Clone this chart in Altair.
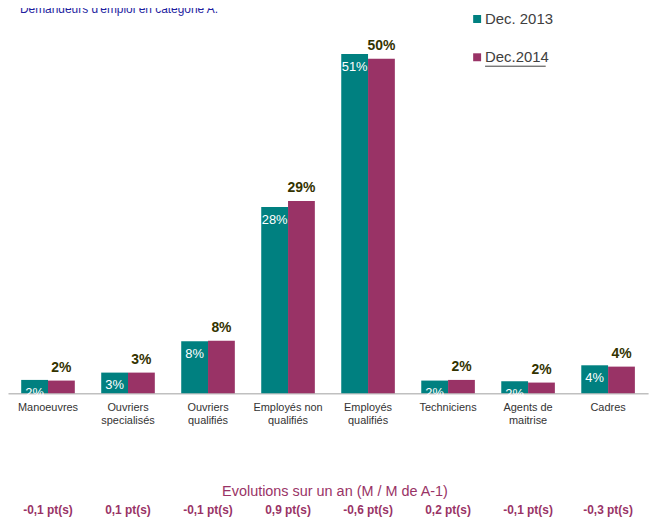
import altair as alt
import pandas as pd

# ---- data ----
categories = ["Manoeuvres", "Ouvriers\nspecialisés", "Ouvriers\nqualifiés", "Employés non\nqualifiés",
              "Employés\nqualifiés", "Techniciens", "Agents de\nmaitrise", "Cadres"]
series = ["Dec. 2013", "Dec.2014"]
values_2013 = [2.0, 3.1, 7.8, 28.0, 51.0, 1.9, 1.8, 4.2]
values_2014 = [1.9, 3.1, 7.9, 28.9, 50.3, 2.0, 1.6, 4.0]
labels_2013 = ["2%", "3%", "8%", "28%", "51%", "2%", "2%", "4%"]
labels_2014 = ["2%", "3%", "8%", "29%", "50%", "2%", "2%", "4%"]
evolutions = ["-0,1 pt(s)", "0,1 pt(s)", "-0,1 pt(s)", "0,9 pt(s)", "-0,6 pt(s)", "0,2 pt(s)",
              "-0,1 pt(s)", "-0,3 pt(s)"]
title_text = "Demandeurs d'emploi en catégorie A."
subtitle_text = "Evolutions sur un an (M / M de A-1)"
colors = ["#008080", "#993366"]

rows = []
for c, v, l in zip(categories, values_2013, labels_2013):
    rows.append({"category": c, "series": series[0], "value": v, "label": l})
for c, v, l in zip(categories, values_2014, labels_2014):
    rows.append({"category": c, "series": series[1], "value": v, "label": l})
df = pd.DataFrame(rows)
df_evol = pd.DataFrame({"category": categories, "evol": evolutions})

FONT = "Liberation Sans"

x_enc = alt.X(
    "category:N", sort=categories, title=None,
    scale=alt.Scale(domain=categories, paddingInner=0.33, paddingOuter=0.165),
    axis=alt.Axis(labelAngle=0, ticks=False, domainColor="#c0c0c0", domainWidth=1.5,
                  labelFontSize=11, labelColor="#333333", labelPadding=8,
                  labelLineHeight=13, labelFont=FONT,
                  labelExpr="split(datum.label, '\\n')"),
)
xo_enc = alt.XOffset("series:N", sort=series, scale=alt.Scale(domain=series))
y_enc = alt.Y("value:Q", scale=alt.Scale(domain=[0, 57.7], nice=False, zero=True), axis=None)

base = alt.Chart(df)

bars = base.mark_bar().encode(
    x=x_enc, xOffset=xo_enc, y=y_enc,
    color=alt.Color("series:N", scale=alt.Scale(domain=series, range=colors), legend=None),
)

lab13 = base.transform_filter(alt.datum.series == series[0]).mark_text(
    baseline="top", dy=7, color="white", fontSize=13, font=FONT
).encode(x=x_enc, xOffset=xo_enc, y=y_enc, text="label:N")

lab14 = base.transform_filter(alt.datum.series == series[1]).mark_text(
    baseline="bottom", dy=-6, color="#333300", fontSize=14, fontWeight="bold", font=FONT
).encode(x=x_enc, xOffset=xo_enc, y=y_enc, text="label:N")

evol = alt.Chart(df_evol).mark_text(
    baseline="middle", color="#993366", fontSize=12, fontWeight="bold", font=FONT
).encode(x=x_enc, y=alt.value(504), text="evol:N")

one = lambda t: pd.DataFrame({"t": [t]})

title = alt.Chart(one(title_text)).mark_text(
    align="left", baseline="alphabetic", color="#1f1f9f", fontSize=12, font=FONT
).encode(x=alt.value(12), y=alt.value(3), text="t:N")

subtitle = alt.Chart(one(subtitle_text)).mark_text(
    align="center", baseline="middle", color="#993366", fontSize=14.5, font=FONT
).encode(x=alt.value(329), y=alt.value(485), text="t:N")

leg_sq1 = alt.Chart(one(series[0])).mark_square(size=64, opacity=1, color=colors[0]).encode(
    x=alt.value(472), y=alt.value(9.5))
leg_sq2 = alt.Chart(one(series[1])).mark_square(size=64, opacity=1, color=colors[1]).encode(
    x=alt.value(472), y=alt.value(48))
leg_t1 = alt.Chart(one(series[0])).mark_text(
    align="left", baseline="middle", color="#404040", fontSize=15, font=FONT
).encode(x=alt.value(480), y=alt.value(9.5), text="t:N")
leg_t2 = alt.Chart(one(series[1])).mark_text(
    align="left", baseline="middle", color="#404040", fontSize=15, font=FONT
).encode(x=alt.value(480), y=alt.value(48), text="t:N")
underline = alt.Chart(one(series[1])).mark_rule(color="#404040", strokeWidth=1).encode(
    x=alt.value(480), x2=alt.value(541), y=alt.value(57))

chart = alt.layer(
    bars, lab13, lab14, evol, title, subtitle, leg_sq1, leg_sq2, leg_t1, leg_t2, underline
).properties(
    width=644, height=386,
    autosize=alt.AutoSizeParams(type="none"),
    padding={"left": 0, "top": 0, "right": 14, "bottom": 127},
).configure_view(stroke=None).configure_axis(grid=False)

chart.save("out.html", embed_options={"renderer": "svg", "actions": False})
